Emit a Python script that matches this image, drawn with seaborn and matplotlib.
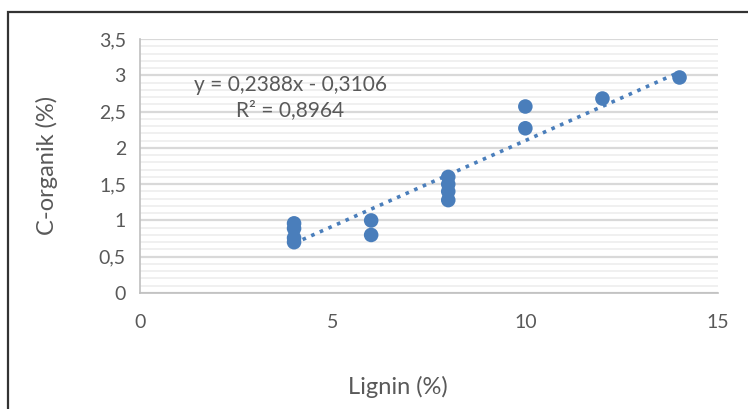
import numpy as np
import pandas as pd
import matplotlib
matplotlib.use("Agg")
import matplotlib.pyplot as plt
import matplotlib.patches as mpatches
from matplotlib.ticker import FuncFormatter, MultipleLocator
import seaborn as sns

# data
lignin = [4, 4, 4, 4, 6, 6, 8, 8, 8, 8, 10, 10, 12, 14]
c_organik = [0.96, 0.89, 0.76, 0.70, 1.00, 0.80, 1.60, 1.50, 1.40, 1.28, 2.57, 2.27, 2.68, 2.97]
equation = "y = 0,2388x - 0,3106\nR² = 0,8964"

df = pd.DataFrame({"Lignin": lignin, "C": c_organik})

sns.set_theme(style="white")
plt.rcParams['font.family'] = ['Lato', 'DejaVu Sans']

blue = "#4a7ebb"
txt = "#595959"

fig = plt.figure(figsize=(7.48, 4.09), dpi=100)
ax = fig.add_axes([0.187, 0.2836, 0.773, 0.621])

sns.regplot(data=df, x="Lignin", y="C", ax=ax, ci=None,
            scatter_kws=dict(s=110, color=blue, edgecolors="none", alpha=1, zorder=3),
            line_kws=dict(color=blue, linestyle=(0, (1, 1.6)), linewidth=2.6, zorder=2))

ax.set_xlim(0, 15)
ax.set_ylim(0, 3.5)
ax.xaxis.set_major_locator(MultipleLocator(5))
ax.yaxis.set_major_locator(MultipleLocator(0.5))
ax.yaxis.set_minor_locator(MultipleLocator(0.1))
fmt = FuncFormatter(lambda v, p: f"{v:g}".replace(".", ","))
ax.xaxis.set_major_formatter(fmt)
ax.yaxis.set_major_formatter(fmt)

ax.grid(which="major", axis="y", color="#d9d9d9", linewidth=1.6)
ax.grid(which="minor", axis="y", color="#efefef", linewidth=1.3)
ax.set_axisbelow(True)

for side in ["top", "right"]:
    ax.spines[side].set_visible(False)
for side in ["left", "bottom"]:
    ax.spines[side].set_color("#bfbfbf")
    ax.spines[side].set_linewidth(1.2)

ax.tick_params(axis="both", which="major", direction="out", length=6, width=1.2,
               color="#bfbfbf", labelsize=14, labelcolor=txt, pad=4)
ax.tick_params(axis="y", which="minor", length=0)
ax.tick_params(axis="x", pad=9)

ax.set_xlabel("Lignin (%)", fontsize=17, color=txt)
ax.set_ylabel("C-organik (%)", fontsize=17, color=txt)
ax.xaxis.set_label_coords(0.446, -0.325)
ax.yaxis.set_label_coords(-0.142, 0.504)

ax.text(3.9, 2.69, equation, ha="center", va="center", fontsize=15,
        color=txt, linespacing=1.3)

# chart border
fig.patches.append(mpatches.Rectangle((0.0107, -0.2), 1.2, 1.1707, transform=fig.transFigure,
                                      fill=False, edgecolor="#333333", linewidth=1.6))

fig.savefig("out.png", dpi=100)
